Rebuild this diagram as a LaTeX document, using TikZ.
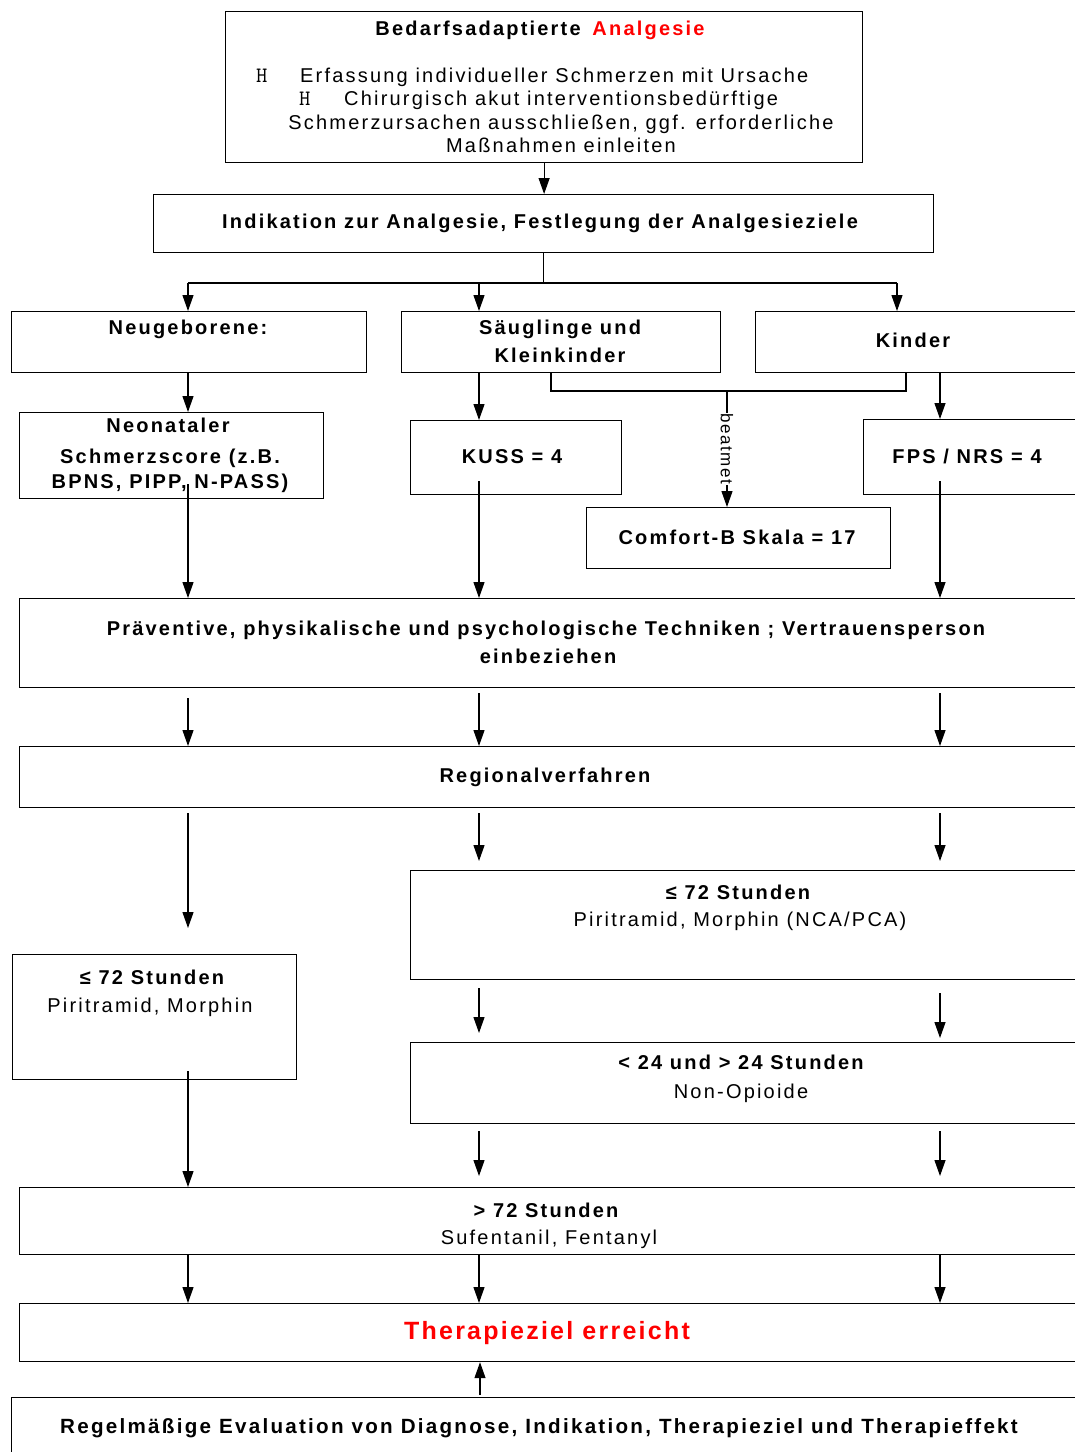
\documentclass[tikz,border=0pt]{standalone}
\usepackage{fontspec}
\setmainfont{Liberation Sans}
\newfontfamily\spaced[LetterSpace=11]{Liberation Sans}
\newfontfamily\slight[LetterSpace=9]{Liberation Sans}
\usetikzlibrary{arrows.meta,calc}

\begin{document}
\begin{tikzpicture}[x=1pt,y=-1pt,
  box/.style={draw, line width=1.2pt, rectangle, inner sep=0pt, anchor=north west},
  txt/.style={inner sep=0pt, text height=14pt, text depth=0pt},
  bold/.style={txt, font=\fontsize{20}{22}\selectfont\spaced\bfseries},
  plain/.style={txt, font=\fontsize{20}{22}\selectfont\spaced},
  bullet/.style={txt, anchor=west, font=\fontsize{22}{24}\selectfont\ttfamily},
  link/.style={line width=1.2pt},
  arr/.style={line width=1.2pt, -{Triangle[length=16pt,width=11pt]}}
]
\useasboundingbox (0,0) rectangle (1075,1452);
\clip (0,0) rectangle (1075,1452);
\fill[white] (0,0) rectangle (1075,1452);

% boxes
\node[box, minimum width=637pt, minimum height=151pt] (top) at (225,11) {};
\node[box, minimum width=780pt, minimum height=58pt] (ind) at (153,194) {};
\node[box, minimum width=355pt, minimum height=61pt] (neu) at (11,311) {};
\node[box, minimum width=319pt, minimum height=61pt] (saug) at (401,311) {};
\node[box, minimum width=330pt, minimum height=61pt] (kinder) at (755,311) {};
\node[box, minimum width=304pt, minimum height=86pt] (neo) at (19,412) {};
\node[box, minimum width=211pt, minimum height=74pt] (kuss) at (410,420) {};
\node[box, minimum width=222pt, minimum height=75pt] (fps) at (863,419) {};
\node[box, minimum width=304pt, minimum height=61pt] (comfort) at (586,507) {};
\node[box, minimum width=1066pt, minimum height=89pt] (prev) at (19,598) {};
\node[box, minimum width=1066pt, minimum height=61pt] (region) at (19,746) {};
\node[box, minimum width=675pt, minimum height=109pt] (nca) at (410,870) {};
\node[box, minimum width=284pt, minimum height=125pt] (lbox) at (12,954) {};
\node[box, minimum width=675pt, minimum height=81pt] (nonop) at (410,1042) {};
\node[box, minimum width=1066pt, minimum height=67pt] (suf) at (19,1187) {};
\node[box, minimum width=1066pt, minimum height=58pt] (thz) at (19,1303) {};
\node[box, minimum width=1074pt, minimum height=70pt] (eval) at (11,1397) {};

% texts
\node[bold] (t1) at (540,28) {Bedarfsadaptierte\hspace{4pt} \textcolor{red}{Analgesie}};
\node[bullet] (h1) at (256,75) {H};
\node[plain, anchor=west] (l1) at (300,75) {Erfassung individueller Schmerzen mit Ursache};
\node[bullet] (h2) at (299,98) {H};
\node[plain, anchor=west] (l2) at (344,98) {Chirurgisch akut interventionsbedürftige};
\node[plain] (l3) at (561,122) {Schmerzursachen ausschließen, ggf. erforderliche};
\node[plain] (l4) at (561,145) {Maßnahmen einleiten};

\node[bold] (t2) at (540,221) {Indikation zur Analgesie, Festlegung der Analgesieziele};
\node[bold] (t3) at (188,327) {Neugeborene:};
\node[bold] (t4a) at (560,327) {Säuglinge und};
\node[bold] (t4b) at (560,355) {Kleinkinder};
\node[bold] (t5) at (913,340) {Kinder};
\node[bold] (t6a) at (168,425) {Neonataler};
\node[bold] (t6b) at (170,456) {Schmerzscore (z.B.};
\node[bold] (t6c) at (170,481) {BPNS, PIPP, N-PASS)};
\node[bold] (t7) at (512,456) {KUSS = 4};
\node[bold] (t8) at (967,456) {FPS / NRS = 4};
\node[bold] (t9) at (737,537) {Comfort-B Skala = 17};
\node[bold] (t10a) at (546,628) {Präventive, physikalische und psychologische Techniken ; Vertrauensperson};
\node[bold] (t10b) at (548,656) {einbeziehen};
\node[bold] (t11) at (545,775) {Regionalverfahren};
\node[bold] (t12a) at (738,892) {≤ 72 Stunden};
\node[plain] (t12b) at (740,919) {Piritramid, Morphin (NCA/PCA)};
\node[bold] (t13a) at (152,977) {≤ 72 Stunden};
\node[plain] (t13b) at (150,1005) {Piritramid, Morphin};
\node[bold] (t14a) at (741,1062) {< 24 und > 24 Stunden};
\node[plain] (t14b) at (741,1091) {Non-Opioide};
\node[bold] (t15a) at (546,1210) {> 72 Stunden};
\node[plain] (t15b) at (549,1237) {Sufentanil, Fentanyl};
\node[txt, text height=18pt, font=\fontsize{25}{28}\selectfont\slight\bfseries, text=red] (t16) at (547,1330) {Therapieziel erreicht};
\node[bold, text height=14.5pt, font=\fontsize{20.6}{22}\selectfont\spaced\bfseries] (t17) at (539,1426) {Regelmäßige Evaluation von Diagnose, Indikation, Therapieziel und Therapieffekt};

% column positions
\coordinate (cL) at (188,0);
\coordinate (cM) at (479,0);
\coordinate (cR) at (940,0);

% top part
\draw[arr] (top.south) -- (top.south |- ind.north);
\coordinate (bl) at (188,283);
\coordinate (br) at (897,283);
\draw[link] (ind.south) -- (ind.south |- bl);
\draw[link] (bl) -- (br);
\draw[arr] (bl) -- (bl |- neu.north);
\draw[arr] (cM |- bl) -- (cM |- saug.north);
\draw[arr] (br) -- (br |- kinder.north);

\draw[arr] (cL |- neu.south) -- (cL |- neo.north);
\draw[arr] (cM |- saug.south) -- (cM |- kuss.north);
\draw[arr] (cR |- kinder.south) -- (cR |- fps.north);

% ventilated branch
\coordinate (bkL) at (551,391);
\coordinate (bkM) at (727,391);
\coordinate (bkR) at (906,391);
\draw[link] (bkL |- saug.south) -- (bkL) -- (bkR) -- (bkR |- kinder.south);
\draw[arr] (bkM) -- (bkM |- comfort.north)
  node[pos=0.5, rotate=-90, fill=white, inner sep=1pt, font=\fontsize{17}{18}\selectfont\slight] (beat) {beatmet};

% scores to techniques
\draw[arr] ($(cL |- neo.south)+(0,-15)$) -- (cL |- prev.north);
\draw[arr] ($(cM |- kuss.south)+(0,-14)$) -- (cM |- prev.north);
\draw[arr] ($(cR |- fps.south)+(0,-14)$) -- (cR |- prev.north);

% techniques to regional
\draw[arr] ($(cL |- prev.south)+(0,10)$) -- (cL |- region.north);
\draw[arr] ($(cM |- prev.south)+(0,5)$) -- (cM |- region.north);
\draw[arr] ($(cR |- prev.south)+(0,5)$) -- (cR |- region.north);

% regional to opioid boxes
\draw[arr] ($(cL |- region.south)+(0,5)$) -- ($(cL |- lbox.north)+(0,-26)$);
\draw[arr] ($(cM |- region.south)+(0,5)$) -- ($(cM |- nca.north)+(0,-9)$);
\draw[arr] ($(cR |- region.south)+(0,5)$) -- ($(cR |- nca.north)+(0,-9)$);

% NCA to non-opioids
\draw[arr] ($(cM |- nca.south)+(0,8)$) -- ($(cM |- nonop.north)+(0,-9)$);
\draw[arr] ($(cR |- nca.south)+(0,13)$) -- ($(cR |- nonop.north)+(0,-4)$);

% to sufentanil
\draw[arr] ($(cL |- lbox.south)+(0,-9)$) -- (cL |- suf.north);
\draw[arr] ($(cM |- nonop.south)+(0,7)$) -- ($(cM |- suf.north)+(0,-11)$);
\draw[arr] ($(cR |- nonop.south)+(0,7)$) -- ($(cR |- suf.north)+(0,-11)$);

% to goal
\draw[arr] (cL |- suf.south) -- (cL |- thz.north);
\draw[arr] (cM |- suf.south) -- (cM |- thz.north);
\draw[arr] (cR |- suf.south) -- (cR |- thz.north);

% evaluation feedback
\draw[arr] ($(cM |- eval.north)+(1,-2)$) -- ($(cM |- thz.south)+(1,0)$);
\end{tikzpicture}
\end{document}
